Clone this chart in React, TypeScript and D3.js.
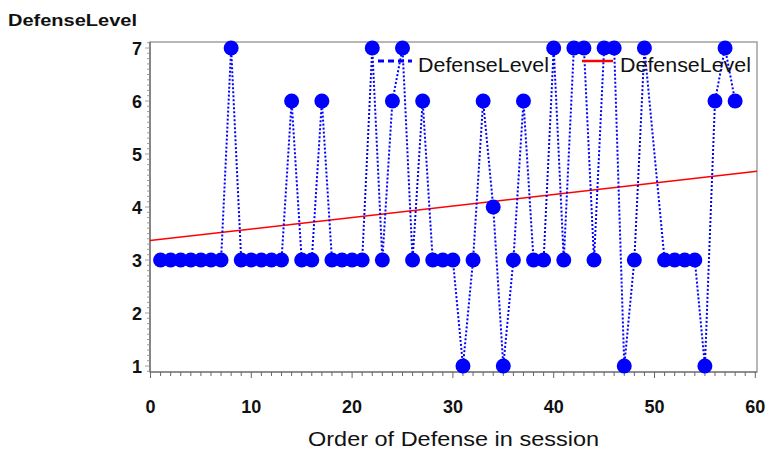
import React from "react";
import * as d3 from "d3";

// ---- data ----
const orders = [
  1, 2, 3, 4, 5, 6, 7, 8, 9, 10, 11, 12, 13, 14, 15, 16, 17, 18, 19, 20,
  21, 22, 23, 24, 25, 26, 27, 28, 29, 30, 31, 32, 33, 34, 35, 36, 37, 38, 39, 40,
  41, 42, 43, 44, 45, 46, 47, 48, 49, 51, 52, 53, 54, 55, 56, 57, 58,
];
const levels = [
  3, 3, 3, 3, 3, 3, 3, 7, 3, 3, 3, 3, 3, 6, 3, 3, 6, 3, 3, 3,
  3, 7, 3, 6, 7, 3, 6, 3, 3, 3, 1, 3, 6, 4, 1, 3, 6, 3, 3, 7,
  3, 7, 7, 3, 7, 7, 1, 3, 7, 3, 3, 3, 3, 1, 6, 7, 6,
];
const xTicks = [0, 10, 20, 30, 40, 50, 60];
const yTicks = [1, 2, 3, 4, 5, 6, 7];
const yTitle = "DefenseLevel";
const xTitle = "Order of Defense in session";
const legendLabels = ["DefenseLevel", "DefenseLevel"];

const W = 770;
const H = 450;
const frame = { left: 150, right: 757, top: 42, bottom: 372 };
const FONT = "'Liberation Sans', Arial, Helvetica, sans-serif";

export default function App() {
  const x = d3.scaleLinear().domain([0, 60]).range([150.5, 755.3]);
  const y = d3.scaleLinear().domain([1, 7]).range([366, 48]);

  const pts = orders.map((o, i) => ({ x: o, y: levels[i] }));

  // least squares fit
  const mx = d3.mean(pts, (p) => p.x) as number;
  const my = d3.mean(pts, (p) => p.y) as number;
  const sxy = d3.sum(pts, (p) => (p.x - mx) * (p.y - my));
  const sxx = d3.sum(pts, (p) => (p.x - mx) * (p.x - mx));
  const slope = sxy / sxx;
  const intercept = my - slope * mx;
  const xMin = x.invert(frame.left);
  const xMax = x.invert(frame.right);

  const line = d3
    .line<{ x: number; y: number }>()
    .x((d) => x(d.x))
    .y((d) => y(d.y));

  const xMinor = d3.range(0, 61, 1);
  const yMinor = d3.range(9, 72, 1).map((v) => v / 10);

  return (
    <svg
      width={W}
      height={H}
      style={{ position: "absolute", left: 0, top: 0, background: "#fff" }}
      fontFamily={FONT}
    >
      {/* frame */}
      <rect
        x={frame.left}
        y={frame.top}
        width={frame.right - frame.left}
        height={frame.bottom - frame.top}
        fill="none"
        stroke="#a0a0a0"
        strokeWidth={1.5}
      />
      {/* axis lines */}
      <line x1={frame.left} x2={frame.right} y1={frame.bottom} y2={frame.bottom} stroke="#666" strokeWidth={1.2} />
      <line x1={frame.left} x2={frame.left} y1={frame.top} y2={frame.bottom} stroke="#666" strokeWidth={1.2} />

      {/* x ticks */}
      {xMinor.map((v) => (
        <line
          key={"xm" + v}
          x1={x(v)}
          x2={x(v)}
          y1={frame.bottom}
          y2={frame.bottom + (v % 10 === 0 ? 6 : 4)}
          stroke="#666"
          strokeWidth={1}
        />
      ))}
      {xTicks.map((v) => (
        <text
          key={"xt" + v}
          x={x(v)}
          y={413}
          textAnchor="middle"
          fontSize={18}
          fontWeight="bold"
          fill="#111"
        >
          {v}
        </text>
      ))}

      {/* y ticks */}
      {yMinor.map((v) => (
        <line
          key={"ym" + v}
          x1={frame.left}
          x2={frame.left - (Math.abs(v - Math.round(v)) < 1e-6 ? 5 : 3)}
          y1={y(v)}
          y2={y(v)}
          stroke="#888"
          strokeWidth={0.8}
        />
      ))}
      {yTicks.map((v) => (
        <text
          key={"yt" + v}
          x={142}
          y={y(v) + 6.5}
          textAnchor="end"
          fontSize={18}
          fontWeight="bold"
          fill="#111"
        >
          {v}
        </text>
      ))}

      {/* titles */}
      <text x={8} y={26} fontSize={17} fontWeight="bold" fill="#111" textLength={129} lengthAdjust="spacingAndGlyphs">
        {yTitle}
      </text>
      <text x={308} y={446} fontSize={20} fill="#111" textLength={291} lengthAdjust="spacingAndGlyphs">
        {xTitle}
      </text>

      {/* regression line */}
      <line
        x1={x(xMin)}
        x2={x(xMax)}
        y1={y(intercept + slope * xMin)}
        y2={y(intercept + slope * xMax)}
        stroke="#ff0000"
        strokeWidth={1.5}
      />

      {/* series line */}
      <path d={line(pts) || ""} fill="none" stroke="#0000ff" strokeWidth={2} strokeDasharray="2,2" />

      {/* legend */}
      <line x1={378} x2={412} y1={61} y2={61} stroke="#0000ff" strokeWidth={3} strokeDasharray="6,4" />
      <text x={418} y={72} fontSize={21} fill="#111" textLength={131} lengthAdjust="spacingAndGlyphs">
        {legendLabels[0]}
      </text>
      <line x1={582} x2={613} y1={61} y2={61} stroke="#ff0000" strokeWidth={2.5} />
      <text x={620} y={72} fontSize={21} fill="#111" textLength={131} lengthAdjust="spacingAndGlyphs">
        {legendLabels[1]}
      </text>

      {/* markers */}
      {pts.map((p, i) => (
        <circle key={"p" + i} cx={x(p.x)} cy={y(p.y)} r={7.5} fill="#0000ff" />
      ))}
    </svg>
  );
}
